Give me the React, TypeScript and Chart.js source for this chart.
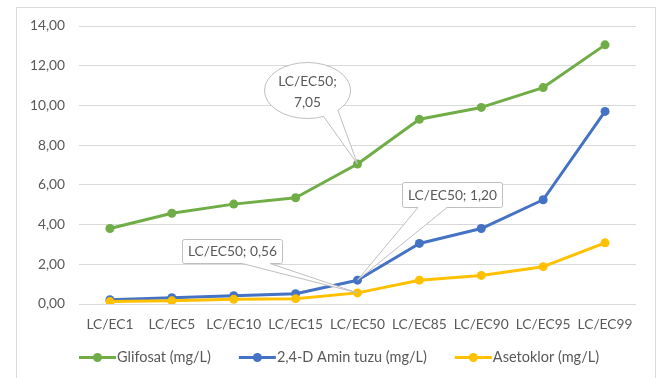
import React, { useEffect, useRef } from 'react';
import { Chart, registerables } from 'chart.js';

Chart.register(...registerables);

const categories = ['LC/EC1', 'LC/EC5', 'LC/EC10', 'LC/EC15', 'LC/EC50', 'LC/EC85', 'LC/EC90', 'LC/EC95', 'LC/EC99'];
const glifosat = [3.8, 4.57, 5.03, 5.35, 7.05, 9.3, 9.9, 10.9, 13.05];
const aminTuzu = [0.22, 0.32, 0.42, 0.52, 1.2, 3.05, 3.8, 5.25, 9.7];
const asetoklor = [0.12, 0.16, 0.24, 0.27, 0.56, 1.2, 1.44, 1.88, 3.08];
const seriesNames = ['Glifosat (mg/L)', '2,4-D Amin tuzu (mg/L)', 'Asetoklor (mg/L)'];
const seriesColors = ['#70AD47', '#4472C4', '#FFC000'];
const yMin = 0;
const yMax = 14;
const yStep = 2;
const calloutCategory = 'LC/EC50';

const FONT = 'Lato';
const FONT_SIZE = 13.75;
const LEGEND_FONT_SIZE = 14.5;
const TEXT = '#595959';
const GRID = '#D9D9D9';
const CALLOUT_BORDER = '#BFBFBF';

const fmt = (v: number) => v.toFixed(2).replace('.', ',');

const decorPlugin = {
  id: 'decor',
  beforeDraw(chart: any) {
    const ctx = chart.ctx;
    ctx.save();
    ctx.fillStyle = '#ffffff';
    ctx.fillRect(0, 0, chart.width, chart.height);
    ctx.strokeStyle = GRID;
    ctx.lineWidth = 1;
    ctx.strokeRect(16.5, 7.5, 639, chart.height + 10);
    ctx.restore();
  },
  afterDraw(chart: any) {
    const ctx = chart.ctx;
    const xs = chart.scales.x;
    const ys = chart.scales.y;
    const idx = categories.indexOf(calloutCategory);
    const px = xs.getPixelForValue(idx);
    ctx.save();
    ctx.font = `${FONT_SIZE}px ${FONT}`;
    ctx.fillStyle = TEXT;
    ctx.textAlign = 'center';
    ctx.textBaseline = 'middle';

    // Ellipse callout for glifosat
    {
      const tipX = px;
      const tipY = ys.getPixelForValue(glifosat[idx]);
      const cx = 307.5, cy = 90.5, rx = 43, ry = 28;
      const a1 = (68 * Math.PI) / 180;
      const a2 = (45 * Math.PI) / 180;
      ctx.beginPath();
      ctx.ellipse(cx, cy, rx, ry, 0, a1, a2, false);
      ctx.lineTo(tipX, tipY);
      ctx.closePath();
      ctx.fillStyle = '#ffffff';
      ctx.fill();
      ctx.strokeStyle = CALLOUT_BORDER;
      ctx.lineWidth = 1;
      ctx.stroke();
      ctx.fillStyle = TEXT;
      ctx.fillText(calloutCategory + ';', cx, cy - 9);
      ctx.fillText(fmt(glifosat[idx]), cx, cy + 12);
    }

    const rectCallout = (x: number, y: number, w: number, h: number, b1: number, b2: number, tipX: number, tipY: number, text: string) => {
      const r = 2;
      ctx.beginPath();
      ctx.moveTo(x + r, y);
      ctx.lineTo(x + w - r, y);
      ctx.arcTo(x + w, y, x + w, y + r, r);
      ctx.lineTo(x + w, y + h - r);
      ctx.arcTo(x + w, y + h, x + w - r, y + h, r);
      ctx.lineTo(b2, y + h);
      ctx.lineTo(tipX, tipY);
      ctx.lineTo(b1, y + h);
      ctx.lineTo(x + r, y + h);
      ctx.arcTo(x, y + h, x, y + h - r, r);
      ctx.lineTo(x, y + r);
      ctx.arcTo(x, y, x + r, y, r);
      ctx.closePath();
      ctx.fillStyle = '#ffffff';
      ctx.fill();
      ctx.strokeStyle = CALLOUT_BORDER;
      ctx.lineWidth = 1;
      ctx.stroke();
      ctx.fillStyle = TEXT;
      ctx.fillText(text, x + w / 2, y + h / 2 + 0.5);
    };

    rectCallout(402.5, 182.5, 100, 25, 418, 447, px, ys.getPixelForValue(aminTuzu[idx]), `${calloutCategory}; ${fmt(aminTuzu[idx])}`);
    rectCallout(182.5, 239.5, 100, 24, 242, 270, px, ys.getPixelForValue(asetoklor[idx]), `${calloutCategory}; ${fmt(asetoklor[idx])}`);

    // Legend
    ctx.font = `${LEGEND_FONT_SIZE}px ${FONT}`;
    const lineLen = 37;
    const gapText = 1;
    const gapItem = 28;
    const widths = seriesNames.map((n) => ctx.measureText(n).width);
    const total = widths.reduce((s, w) => s + lineLen + gapText + w, 0) + gapItem * (seriesNames.length - 1);
    let lx = 339 - total / 2;
    const ly = 357.5;
    ctx.textAlign = 'left';
    seriesNames.forEach((name, i) => {
      ctx.strokeStyle = seriesColors[i];
      ctx.lineWidth = 3;
      ctx.beginPath();
      ctx.moveTo(lx, ly);
      ctx.lineTo(lx + lineLen, ly);
      ctx.stroke();
      ctx.fillStyle = seriesColors[i];
      ctx.beginPath();
      ctx.arc(lx + lineLen / 2, ly, 4.5, 0, Math.PI * 2);
      ctx.fill();
      ctx.fillStyle = TEXT;
      ctx.fillText(name, lx + lineLen + gapText, ly);
      lx += lineLen + gapText + widths[i] + gapItem;
    });
    ctx.restore();
  },
};

export default function App() {
  const ref = useRef<HTMLCanvasElement | null>(null);
  useEffect(() => {
    if (!ref.current) return;
    const seriesData = [glifosat, aminTuzu, asetoklor];
    const chart = new Chart(ref.current, {
      type: 'line',
      data: {
        labels: categories,
        datasets: seriesNames.map((name, i) => ({
          label: name,
          data: seriesData[i],
          borderColor: seriesColors[i],
          backgroundColor: seriesColors[i],
          pointBackgroundColor: seriesColors[i],
          pointBorderColor: seriesColors[i],
          pointBorderWidth: 0,
          pointRadius: 4.5,
          borderWidth: 3,
          borderJoinStyle: 'round' as const,
          borderCapStyle: 'round' as const,
          tension: 0,
          order: seriesNames.length - 1 - i,
        })),
      },
      options: {
        responsive: false,
        animation: false,
        devicePixelRatio: 1,
        layout: { padding: { left: 16, right: 24, top: 26, bottom: 0 } },
        plugins: {
          legend: { display: false },
          tooltip: { enabled: false },
        },
        scales: {
          x: {
            offset: true,
            grid: { display: false, drawTicks: false },
            border: { display: false },
            ticks: {
              color: TEXT,
              font: { family: FONT, size: FONT_SIZE },
              padding: 12,
              maxRotation: 0,
              autoSkip: false,
            },
            afterFit: (s: any) => {
              s.height = 74;
            },
          },
          y: {
            min: yMin,
            max: yMax,
            grid: { color: GRID, lineWidth: 1, drawTicks: false },
            border: { display: false },
            ticks: {
              stepSize: yStep,
              color: TEXT,
              font: { family: FONT, size: FONT_SIZE },
              padding: 14,
              callback: (v: any) => fmt(Number(v)),
            },
            afterFit: (s: any) => {
              s.width = 63;
            },
          },
        },
      },
      plugins: [decorPlugin],
    });
    return () => chart.destroy();
  }, []);
  return (
    <div style={{ position: 'absolute', left: 0, top: 0, width: 660, height: 378 }}>
      <canvas ref={ref} width={660} height={378} style={{ display: 'block' }} />
    </div>
  );
}
